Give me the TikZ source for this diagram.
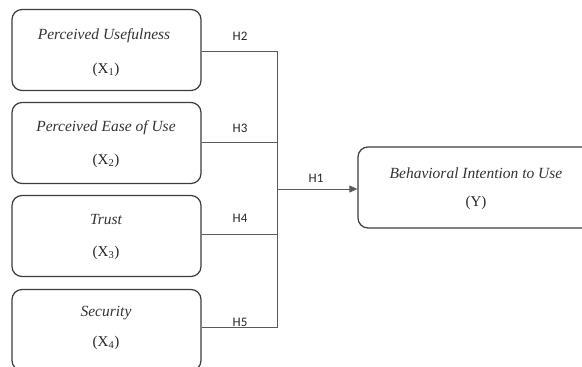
\documentclass[tikz,border=0pt]{standalone}
\usepackage{fontspec}
\setmainfont{Liberation Serif}
\newfontfamily\hfont{Carlito}
\usetikzlibrary{arrows.meta}
\definecolor{boxline}{RGB}{60,60,60}
\definecolor{conn}{RGB}{90,90,90}
\begin{document}
\begin{tikzpicture}[x=1pt,y=-1pt,
  varbox/.style={draw=boxline,line width=1.2pt,rounded corners=10pt,minimum width=189pt,minimum height=81pt,inner sep=0pt},
  vartext/.style={font=\fontsize{15.5}{18}\selectfont\itshape,text=black!80},
  subtext/.style={font=\fontsize{15}{18}\selectfont,text=black!85},
  hlabel/.style={font=\hfont\fontsize{13}{15}\selectfont,text=black!85},
  connline/.style={draw=conn,line width=0.8pt}]
\useasboundingbox (0,0) rectangle (582,367);
\clip (0,0) rectangle (582,367);
\node[varbox] (b1) at (106.5,50) {};
\node[varbox] (b2) at (106.5,143) {};
\node[varbox] (b3) at (106.5,236) {};
\node[varbox] (b4) at (106.5,330) {};
\node[varbox,minimum width=236pt] (by) at (476,187.5) {};
\node[vartext] (t1) at (104,36) {Perceived Usefulness};
\node[subtext] (s1) at (106,70) {(X\textsubscript{1})};
\node[vartext] (t2) at (106,128) {Perceived Ease of Use};
\node[subtext] (s2) at (106,161) {(X\textsubscript{2})};
\node[vartext] (t3) at (106,220) {Trust};
\node[subtext] (s3) at (106,253) {(X\textsubscript{3})};
\node[vartext] (t4) at (106,313) {Security};
\node[subtext] (s4) at (106,343) {(X\textsubscript{4})};
\node[vartext] (ty) at (476,173) {Behavioral Intention to Use};
\node[subtext] (sy) at (476,203) {(Y)};
\coordinate (j2) at (277,51);
\coordinate (j3) at (277,142);
\coordinate (j4) at (277,234);
\coordinate (j5) at (277,327);
\coordinate (j1) at (277,189);
\draw[connline] (b1.east |- j2) -- (j2) -- (j5) -- (b4.east |- j5);
\draw[connline] (b2.east |- j3) -- (j3);
\draw[connline] (b3.east |- j4) -- (j4);
\draw[connline,-{Triangle[length=8pt,width=7pt]}] (j1) -- (by.west |- j1);
\node[hlabel] (h2) at (240,36) {H2};
\node[hlabel] (h3) at (240,128) {H3};
\node[hlabel] (h4) at (240,218) {H4};
\node[hlabel] (h5) at (240,322) {H5};
\node[hlabel] (h1) at (316,178) {H1};
\end{tikzpicture}
\end{document}
